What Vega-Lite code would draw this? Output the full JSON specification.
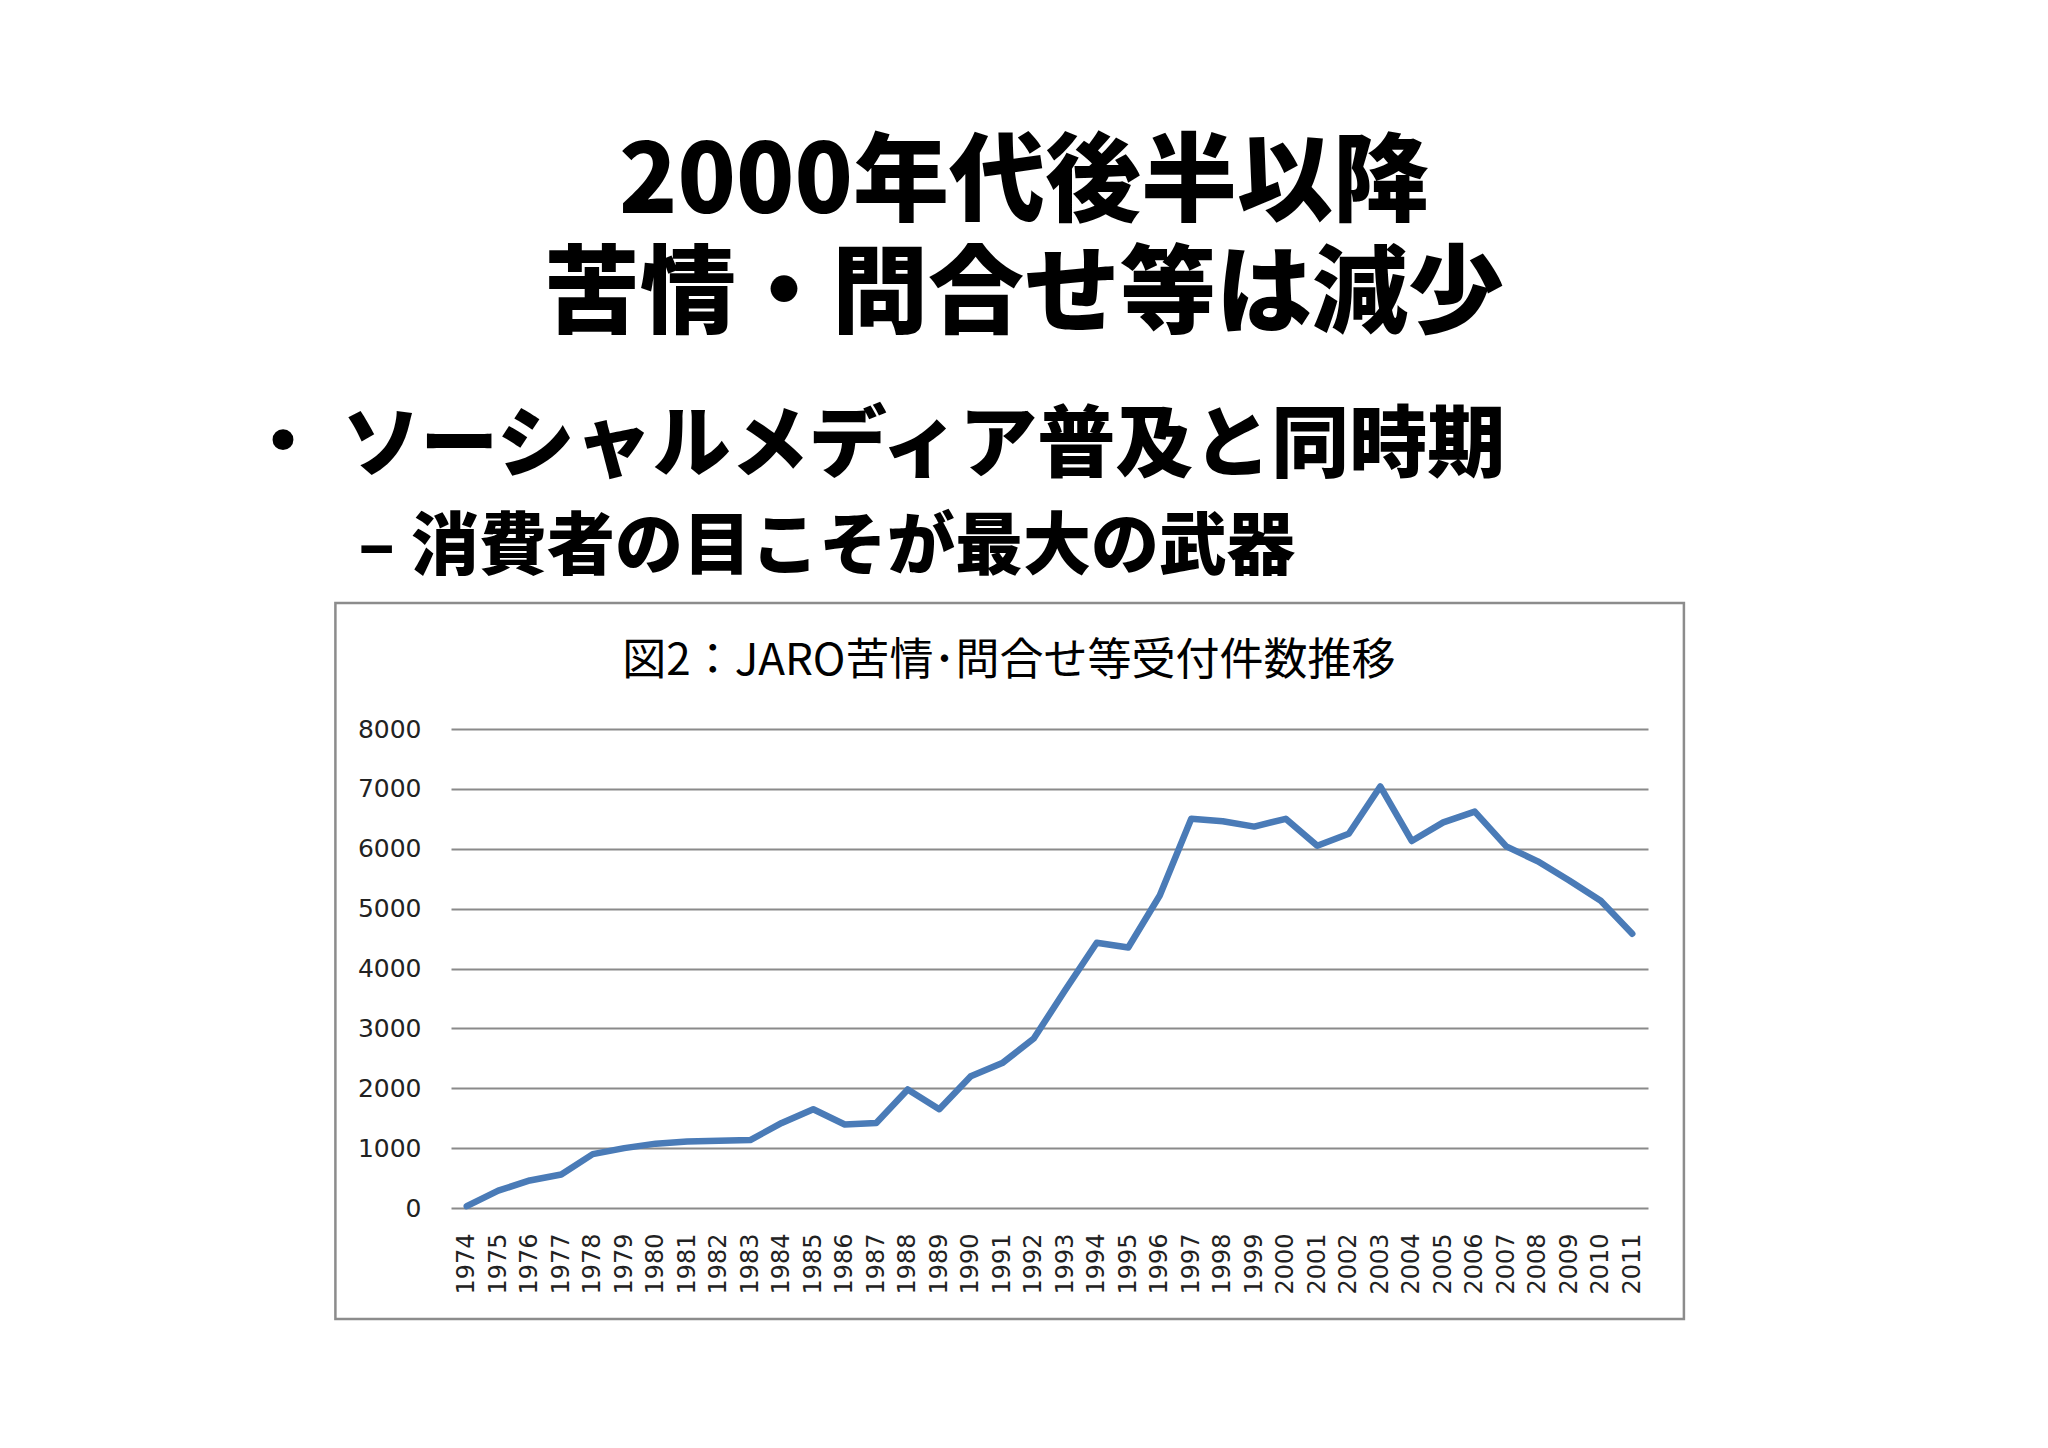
{
  "$schema": "https://vega.github.io/schema/vega-lite/v6.json",
  "width": 1197,
  "height": 479,
  "autosize": {"type": "none"},
  "padding": {"left": 451, "top": 729, "right": 400, "bottom": 240},
  "background": "white",
  "config": {
    "view": {"stroke": null},
    "font": "Noto Sans CJK JP",
    "axisX": {"labelOverlap": false, "labelFlush": false, "tickCount": 38},
    "axisY": {"labelOverlap": false, "labelFlush": false, "tickCount": 9}
  },
  "layer": [
    {
      "data": {"values": [
        {"year": 1974, "count": 30}, {"year": 1975, "count": 290}, {"year": 1976, "count": 460},
        {"year": 1977, "count": 560}, {"year": 1978, "count": 900}, {"year": 1979, "count": 1000},
        {"year": 1980, "count": 1075}, {"year": 1981, "count": 1110}, {"year": 1982, "count": 1125},
        {"year": 1983, "count": 1135}, {"year": 1984, "count": 1420}, {"year": 1985, "count": 1650},
        {"year": 1986, "count": 1395}, {"year": 1987, "count": 1420}, {"year": 1988, "count": 1980},
        {"year": 1989, "count": 1650}, {"year": 1990, "count": 2200}, {"year": 1991, "count": 2420},
        {"year": 1992, "count": 2830}, {"year": 1993, "count": 3640}, {"year": 1994, "count": 4430},
        {"year": 1995, "count": 4350}, {"year": 1996, "count": 5220}, {"year": 1997, "count": 6500},
        {"year": 1998, "count": 6460}, {"year": 1999, "count": 6370}, {"year": 2000, "count": 6500},
        {"year": 2001, "count": 6050}, {"year": 2002, "count": 6250}, {"year": 2003, "count": 7040},
        {"year": 2004, "count": 6130}, {"year": 2005, "count": 6440}, {"year": 2006, "count": 6620},
        {"year": 2007, "count": 6040}, {"year": 2008, "count": 5790}, {"year": 2009, "count": 5470},
        {"year": 2010, "count": 5130}, {"year": 2011, "count": 4580}
      ]},
      "mark": {"type": "line", "color": "#4a7bb7", "strokeWidth": 6.5, "strokeJoin": "round", "strokeCap": "round"},
      "encoding": {
        "x": {
          "field": "year", "type": "quantitative", "title": null,
          "scale": {"domain": [1973.5, 2011.5], "nice": false, "zero": false},
          "axis": {
            "values": [1974,1975,1976,1977,1978,1979,1980,1981,1982,1983,1984,1985,1986,1987,1988,1989,1990,1991,1992,1993,1994,1995,1996,1997,1998,1999,2000,2001,2002,2003,2004,2005,2006,2007,2008,2009,2010,2011],
            "tickCount": 38, "tickMinStep": 1,
            "format": "d", "labelAngle": 270, "grid": false, "domain": false, "ticks": false,
            "labelPadding": 25, "labelFont": "DejaVu Sans", "labelFontSize": 24, "labelColor": "#222222",
            "labelOverlap": false, "labelFlush": false
          }
        },
        "y": {
          "field": "count", "type": "quantitative", "title": null,
          "scale": {"domain": [0, 8000], "nice": false},
          "axis": {
            "values": [0,1000,2000,3000,4000,5000,6000,7000,8000],
            "tickCount": 9, "tickMinStep": 1000,
            "format": "d",
            "grid": true, "gridColor": "#8a8a8a", "gridWidth": 2, "domain": false, "ticks": false,
            "labelPadding": 30, "labelFont": "DejaVu Sans", "labelFontSize": 25, "labelColor": "#222222",
            "labelOverlap": false, "labelFlush": false
          }
        }
      }
    },
    {
      "data": {"values": [{}]},
      "mark": {"type": "rect", "fillOpacity": 0, "stroke": "#8c8c8c", "strokeWidth": 2.5},
      "encoding": {
        "x": {"datum": 1969.83, "type": "quantitative"},
        "x2": {"datum": 2012.64},
        "y": {"datum": 10104, "type": "quantitative"},
        "y2": {"datum": -1854}
      }
    },
    {
      "data": {"values": [{"t": "図2：JARO苦情･問合せ等受付件数推移"}]},
      "mark": {"type": "text", "font": "Noto Sans CJK JP", "fontSize": 44, "align": "center", "baseline": "alphabetic", "color": "#000000"},
      "encoding": {
        "text": {"field": "t"},
        "x": {"datum": 1991.21, "type": "quantitative"},
        "y": {"datum": 8902, "type": "quantitative"}
      }
    },
    {
      "data": {"values": [{"t": "2000年代後半以降\n苦情・問合せ等は減少"}]},
      "mark": {"type": "text", "font": "Noto Sans CJK JP", "fontSize": 96, "fontWeight": 900, "align": "center", "baseline": "alphabetic", "lineBreak": "\n", "lineHeight": 112, "color": "#000000"},
      "encoding": {
        "text": {"field": "t"},
        "x": {"datum": 1991.69, "type": "quantitative"},
        "y": {"datum": 16618, "type": "quantitative"}
      }
    },
    {
      "data": {"values": [{"t": "•"}]},
      "mark": {"type": "text", "font": "DejaVu Sans", "fontSize": 72, "align": "center", "baseline": "alphabetic", "color": "#000000"},
      "encoding": {
        "text": {"field": "t"},
        "x": {"datum": 1968.17, "type": "quantitative"},
        "y": {"datum": 12393, "type": "quantitative"}
      }
    },
    {
      "data": {"values": [{"t": "ソーシャルメディア普及と同時期"}]},
      "mark": {"type": "text", "font": "Noto Sans CJK JP", "fontSize": 78, "fontWeight": 900, "align": "left", "baseline": "alphabetic", "color": "#000000"},
      "encoding": {
        "text": {"field": "t"},
        "x": {"datum": 1970.05, "type": "quantitative"},
        "y": {"datum": 12309, "type": "quantitative"}
      }
    },
    {
      "data": {"values": [{"t": "– 消費者の目こそが最大の武器"}]},
      "mark": {"type": "text", "font": "Noto Sans CJK JP", "fontSize": 68, "fontWeight": 900, "align": "left", "baseline": "alphabetic", "color": "#000000"},
      "encoding": {
        "text": {"field": "t"},
        "x": {"datum": 1970.55, "type": "quantitative"},
        "y": {"datum": 10672, "type": "quantitative"}
      }
    }
  ]
}
